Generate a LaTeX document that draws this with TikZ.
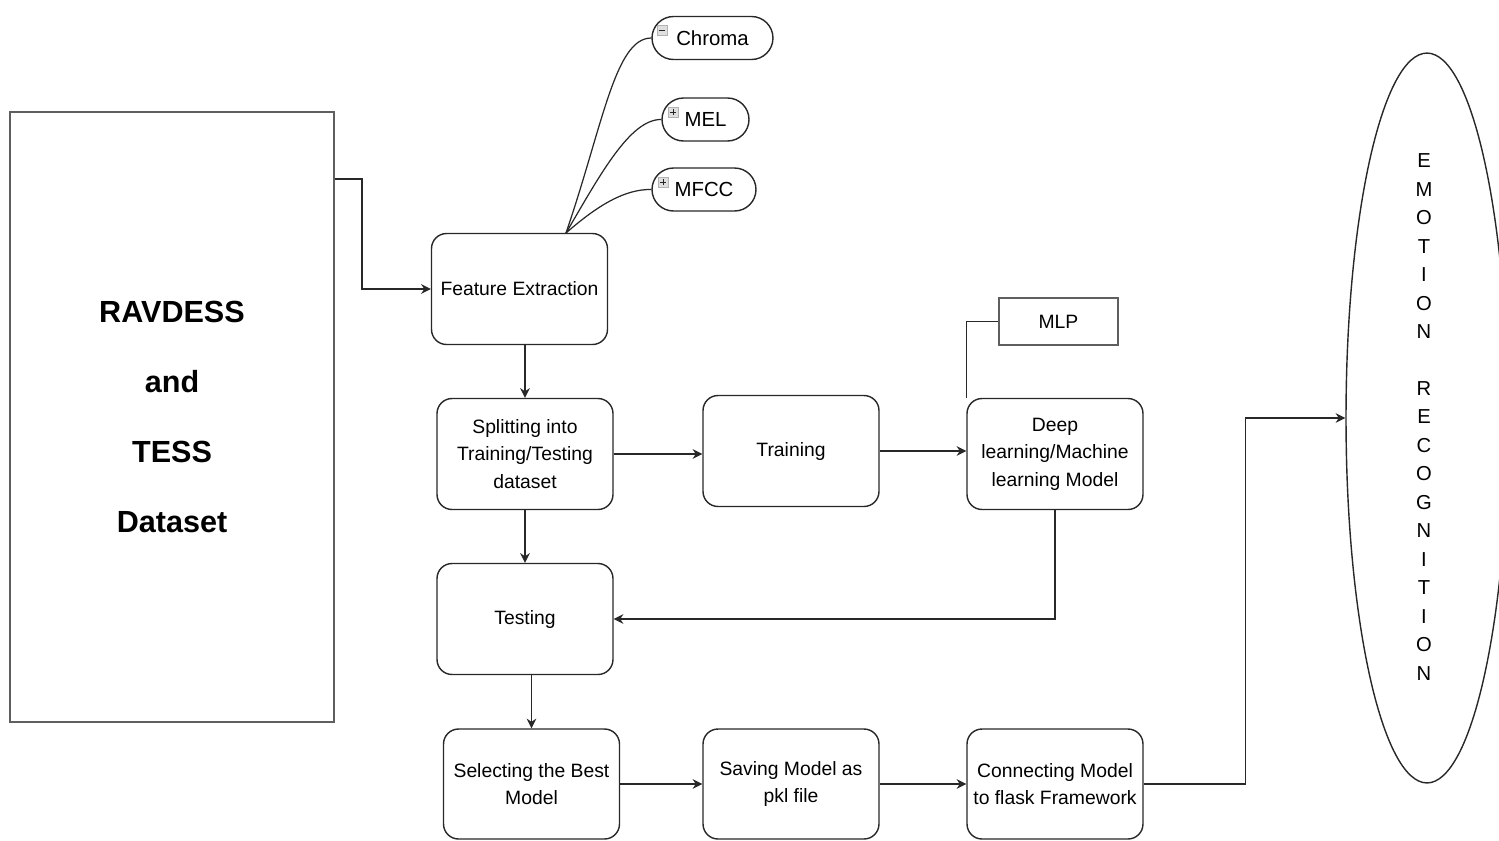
\documentclass[tikz,border=0pt]{standalone}
\usepackage{fontspec}
\setmainfont{Liberation Sans}
\usetikzlibrary{shapes.geometric,arrows.meta,calc}
\definecolor{linecol}{RGB}{40,40,40}
\definecolor{framegray}{RGB}{95,95,95}
\begin{document}
\begin{tikzpicture}[x=0.02cm,y=-0.02cm,
  stepbox/.style={draw=linecol, line width=0.8pt, rounded corners=0.3cm, minimum width=3.52cm, minimum height=2.22cm, align=center, inner sep=1pt, font=\fontsize{11}{15.6}\selectfont},
  pill/.style={draw=linecol, line width=0.8pt, rounded corners=0.43cm, minimum height=0.86cm, inner sep=0pt, font=\fontsize{11.6}{14}\selectfont},
  icon/.style={draw=gray!60, fill=gray!25, minimum size=0.2cm, inner sep=0pt},
  arr/.style={draw=linecol, line width=0.8pt, -{Stealth[length=5.5pt,width=5.5pt]}},
  plain/.style={draw=linecol, line width=0.8pt},
  curve/.style={draw=linecol, line width=0.7pt}]
\useasboundingbox (0,0) rectangle (1499,840);

% dataset box
\node[draw=framegray, line width=1.2pt, minimum width=6.48cm, minimum height=12.2cm, inner sep=0pt,
      align=center, font=\fontsize{17.4}{39.7}\bfseries\selectfont] (data) at (172,417)
      {RAVDESS\\and\\TESS\\Dataset};

% process boxes
\node[stepbox] (fe) at (519.5,289) {Feature Extraction};
\node[stepbox] (split) at (525,454) {Splitting into\\Training/Testing\\dataset};
\node[stepbox] (train) at (791,451) {Training};
\node[stepbox] (deep) at (1055,454) {Deep\\learning/Machine\\learning Model};
\node[stepbox] (test) at (525,619) {Testing};
\node[stepbox, minimum height=2.2cm] (select) at (531.5,784) {Selecting the Best\\Model};
\node[stepbox, minimum height=2.2cm] (save) at (791,784) {Saving Model as\\pkl file};
\node[stepbox, minimum height=2.2cm] (conn) at (1055,784) {Connecting Model\\to flask Framework};

% MLP
\node[draw=framegray, line width=1pt, minimum width=2.38cm, minimum height=0.94cm, inner sep=0pt,
      font=\fontsize{11}{13}\selectfont] (mlp) at (1058.5,321.5) {MLP};

% feature pills
\node[pill, minimum width=2.42cm] (chroma) at (712.5,38) {Chroma};
\node[pill, minimum width=1.74cm] (mel) at (705.5,119.5) {MEL};
\node[pill, minimum width=2.08cm] (mfcc) at (704,189.5) {MFCC};

% small icons on pills
\node[icon] (ic1) at (662,30) {};
\draw[gray!30!black, line width=0.5pt] ([xshift=1.3pt]ic1.west) -- ([xshift=-1.3pt]ic1.east);
\node[icon] (ic2) at (673,112) {};
\draw[gray!30!black, line width=0.5pt] ([xshift=1.3pt]ic2.west) -- ([xshift=-1.3pt]ic2.east);
\draw[gray!30!black, line width=0.5pt] ([yshift=-1.3pt]ic2.north) -- ([yshift=1.3pt]ic2.south);
\node[icon] (ic3) at (663,182) {};
\draw[gray!30!black, line width=0.5pt] ([xshift=1.3pt]ic3.west) -- ([xshift=-1.3pt]ic3.east);
\draw[gray!30!black, line width=0.5pt] ([yshift=-1.3pt]ic3.north) -- ([yshift=1.3pt]ic3.south);

% emotion recognition ellipse
\node[ellipse, draw=linecol, line width=0.8pt, minimum width=3.24cm, minimum height=14.6cm, inner sep=0pt] (emo) at (1427,418) {};
\node[align=center, font=\fontsize{11.5}{16.2}\selectfont] (emotxt) at (1424,417)
  {E\\M\\O\\T\\I\\O\\N\\\mbox{}\\R\\E\\C\\O\\G\\N\\I\\T\\I\\O\\N};

% curves from feature extraction to features
\coordinate (root) at (566,233);
\draw[curve] (root) .. controls (603,125) and (615,38) .. (chroma.west);
\draw[curve] (root) .. controls (600,175) and (630,119) .. (mel.west);
\draw[curve] (root) .. controls (598,205) and (625,189) .. (mfcc.west);

% connectors
\draw[arr] ($(data.north east)+(0,68)$) -- ++(27,0) |- (fe.west);
\draw[arr] (fe.south -| split) -- (split.north);
\draw[arr] (split.east) -- (split.east -| train.west);
\draw[arr] (train.east) -- (train.east -| deep.west);
\draw[plain] (mlp.west) -| (deep.north west);
\draw[arr] (split.south) -- (test.north);
\draw[arr] (deep.south) |- (test.east);
\draw[arr] (test.south -| select) -- (select.north);
\draw[arr] (select.east) -- (save.west);
\draw[arr] (save.east) -- (conn.west);
\draw[arr] (conn.east) -- ++(102,0) |- (emo.west);
\end{tikzpicture}
\end{document}
